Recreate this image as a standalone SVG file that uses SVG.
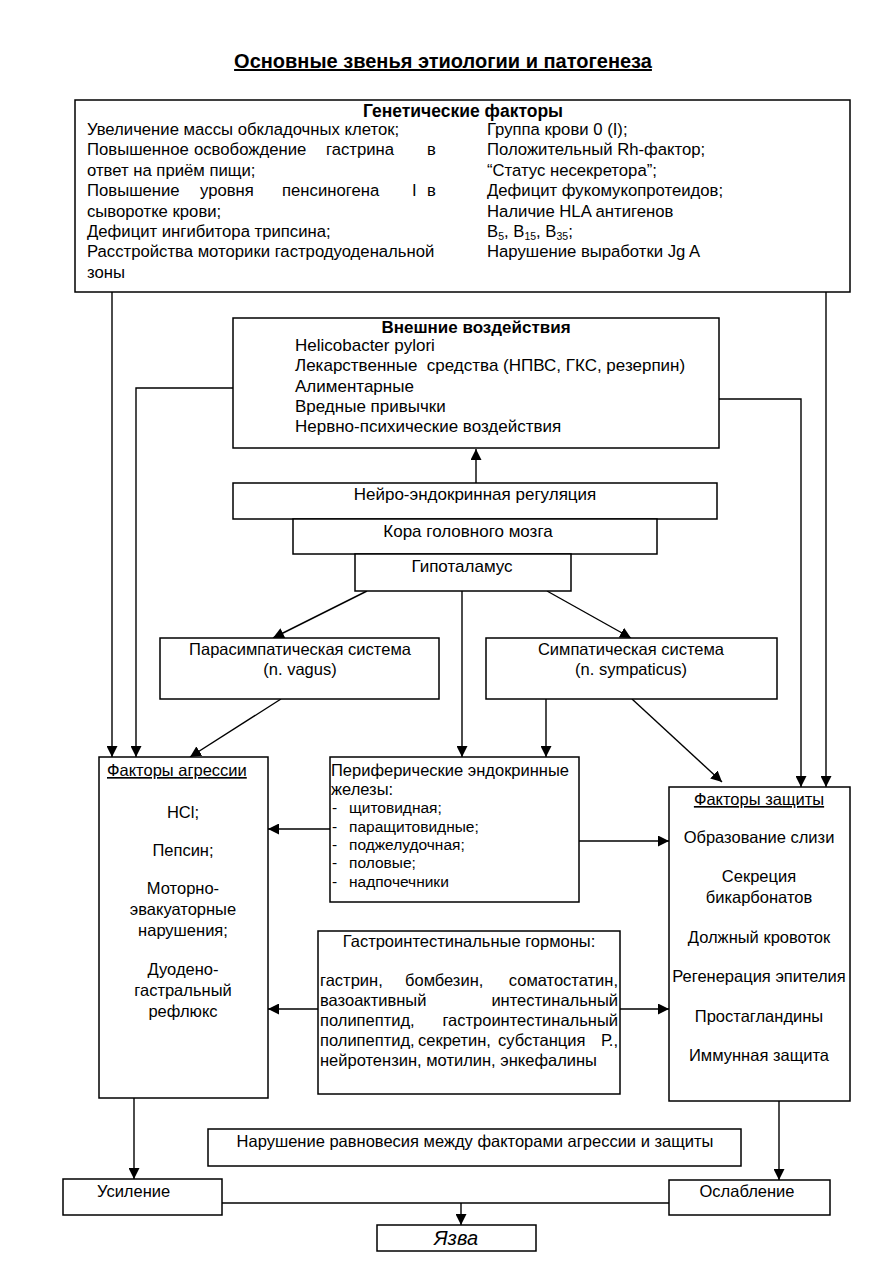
<svg xmlns="http://www.w3.org/2000/svg" width="874" height="1272" viewBox="0 0 874 1272">
<style>
text{font-family:"Liberation Sans",Arial,sans-serif;fill:#000;}
.t{font-size:16.7px;}
.x{font-size:17px;}
.s{font-size:16.5px;}
.xs{font-size:15.5px;}
.b{font-weight:bold;}
.c{text-anchor:middle;}
.e{text-anchor:end;}
.u{text-decoration:underline;}
.box{fill:#fff;stroke:#000;stroke-width:1.5;}
.ln{fill:none;stroke:#000;stroke-width:1.4;}
.ar{fill:none;stroke:#000;stroke-width:1.4;marker-end:url(#ah);}
</style>
<defs>
<marker id="ah" markerWidth="11" markerHeight="11" refX="11" refY="5.5" orient="auto" markerUnits="userSpaceOnUse">
<path d="M0,0 L11,5.5 L0,11 z" fill="#000"/>
</marker>
</defs>
<rect width="874" height="1272" fill="#fff"/>
<text x="443" y="68" class="b c u" font-size="20">Основные звенья этиологии и патогенеза</text>

<g id="connectors">
<path class="ar" d="M112,292 V757"/>
<path class="ar" d="M233,388 H136 V757"/>
<path class="ar" d="M719,399 H801 V787"/>
<path class="ar" d="M826,292 V787"/>
<path class="ar" d="M476,483 V449"/>
<path class="ar" d="M367,591 L273,638"/>
<path class="ar" d="M462,591 V757"/>
<path class="ar" d="M547,591 L631,638"/>
<path class="ar" d="M281,699 L190,757"/>
<path class="ar" d="M546,699 V757"/>
<path class="ar" d="M632,699 L722,782"/>
<path class="ar" d="M330,829 H268"/>
<path class="ar" d="M579,841 H669"/>
<path class="ar" d="M318,1009 H268"/>
<path class="ar" d="M620,1009 H669"/>
<path class="ar" d="M134,1098 V1179"/>
<path class="ar" d="M779,1101 V1180"/>
<path class="ln" d="M222,1203 H669"/>
<path class="ar" d="M461,1203 V1225"/>
</g>

<g id="genetic">
<rect class="box" x="75" y="100" width="775" height="192"/>
<text x="463" y="117" class="b c" font-size="17.5">Генетические факторы</text>
<text x="87" y="135" class="t">Увеличение массы обкладочных клеток;</text>
<text y="155.4" class="t"><tspan x="87">Повышенное</tspan><tspan x="194">освобождение</tspan><tspan x="326">гастрина</tspan><tspan x="427">в</tspan></text>
<text x="87" y="175.8" class="t">ответ на приём пищи;</text>
<text y="196.2" class="t"><tspan x="87">Повышение</tspan><tspan x="200">уровня</tspan><tspan x="282">пенсиногена</tspan><tspan x="412">I</tspan><tspan x="427">в</tspan></text>
<text x="87" y="216.6" class="t">сыворотке крови;</text>
<text x="87" y="237" class="t">Дефицит ингибитора трипсина;</text>
<text x="87" y="257.4" class="t">Расстройства моторики гастродуоденальной</text>
<text x="87" y="277.8" class="t">зоны</text>
<text x="487" y="135" class="t">Группа крови 0 (I);</text>
<text x="487" y="155.4" class="t">Положительный Rh-фактор;</text>
<text x="487" y="175.8" class="t">“Статус несекретора”;</text>
<text x="487" y="196.2" class="t">Дефицит фукомукопротеидов;</text>
<text x="487" y="216.6" class="t">Наличие HLA антигенов</text>
<text x="487" y="237" class="t">B<tspan font-size="10.5" dy="3">5</tspan><tspan dy="-3">, B</tspan><tspan font-size="10.5" dy="3">15</tspan><tspan dy="-3">, B</tspan><tspan font-size="10.5" dy="3">35</tspan><tspan dy="-3">;</tspan></text>
<text x="487" y="257.4" class="t">Нарушение выработки Jg A</text>
</g>

<g id="external">
<rect class="box" x="233" y="318" width="486" height="130"/>
<text x="476" y="333" class="b c" font-size="17">Внешние воздействия</text>
<text x="295" y="351" class="x">Helicobacter pylori</text>
<text x="295" y="371.3" class="x">Лекарственные&#160; средства (НПВС, ГКС, резерпин)</text>
<text x="295" y="391.5" class="x">Алиментарные</text>
<text x="295" y="411.8" class="x">Вредные привычки</text>
<text x="295" y="432" class="x">Нервно-психические воздействия</text>
</g>

<g id="neuro">
<rect class="box" x="233" y="483" width="484" height="36"/>
<text x="475" y="500" class="x c">Нейро-эндокринная регуляция</text>
</g>
<g id="cortex">
<rect class="box" x="293" y="519" width="364" height="35"/>
<text x="468" y="537" class="x c">Кора головного мозга</text>
</g>
<g id="hypothalamus">
<rect class="box" x="355" y="554" width="216" height="37"/>
<text x="462" y="572" class="x c">Гипоталамус</text>
</g>

<g id="parasympathetic">
<rect class="box" x="160" y="638" width="279" height="61"/>
<text x="300" y="655" class="s c">Парасимпатическая система</text>
<text x="300" y="675" class="s c">(n. vagus)</text>
</g>
<g id="sympathetic">
<rect class="box" x="486" y="638" width="291" height="61"/>
<text x="631" y="655" class="s c">Симпатическая система</text>
<text x="631" y="675" class="s c">(n. sympaticus)</text>
</g>

<g id="aggression">
<rect class="box" x="99" y="757" width="169" height="341"/>
<text x="107" y="776" class="s u">Факторы агрессии</text>
<text x="183" y="818" class="s c">HCl;</text>
<text x="183" y="856" class="s c">Пепсин;</text>
<text x="183" y="894" class="s c">Моторно-</text>
<text x="183" y="915" class="s c">эвакуаторные</text>
<text x="183" y="936" class="s c">нарушения;</text>
<text x="183" y="975" class="s c">Дуодено-</text>
<text x="183" y="996" class="s c">гастральный</text>
<text x="183" y="1017" class="s c">рефлюкс</text>
</g>

<g id="peripheral">
<rect class="box" x="330" y="757" width="249" height="145"/>
<text x="331" y="776" class="s">Периферические эндокринные</text>
<text x="331" y="795" class="s">железы:</text>
<text x="332" y="813" class="xs">-</text><text x="349" y="813" class="xs">щитовидная;</text>
<text x="332" y="832" class="xs">-</text><text x="349" y="832" class="xs">паращитовидные;</text>
<text x="332" y="850" class="xs">-</text><text x="349" y="850" class="xs">поджелудочная;</text>
<text x="332" y="868" class="xs">-</text><text x="349" y="868" class="xs">половые;</text>
<text x="332" y="887" class="xs">-</text><text x="349" y="887" class="xs">надпочечники</text>
</g>

<g id="defense">
<rect class="box" x="669" y="787" width="181" height="314"/>
<text x="759" y="805" class="s c u">Факторы защиты</text>
<text x="759" y="843" class="s c">Образование слизи</text>
<text x="759" y="882" class="s c">Секреция</text>
<text x="759" y="903" class="s c">бикарбонатов</text>
<text x="759" y="943" class="s c">Должный кровоток</text>
<text x="759" y="982" class="s c">Регенерация эпителия</text>
<text x="759" y="1022" class="s c">Простагландины</text>
<text x="759" y="1061" class="s c">Иммунная защита</text>
</g>

<g id="hormones">
<rect class="box" x="318" y="931" width="302" height="163"/>
<text x="469" y="947" class="s c">Гастроинтестинальные гормоны:</text>
<text y="986" class="s"><tspan x="320">гастрин,</tspan><tspan x="405">бомбезин,</tspan></text>
<text x="618" y="986" class="s e">соматостатин,</text>
<text x="320" y="1006" class="s">вазоактивный</text>
<text x="618" y="1006" class="s e">интестинальный</text>
<text x="320" y="1026" class="s">полипептид,</text>
<text x="618" y="1026" class="s e">гастроинтестинальный</text>
<text y="1046" class="s"><tspan x="320">полипептид,</tspan><tspan x="418">секретин,</tspan><tspan x="498">субстанция</tspan></text>
<text x="618" y="1046" class="s e">Р.,</text>
<text x="320" y="1066" class="s">нейротензин, мотилин, энкефалины</text>
</g>

<g id="imbalance">
<rect class="box" x="208" y="1129" width="533" height="37"/>
<text x="475" y="1147" class="s c">Нарушение равновесия между факторами агрессии и защиты</text>
</g>
<g id="increase">
<rect class="box" x="63" y="1179" width="159" height="36"/>
<text x="97" y="1197" class="s">Усиление</text>
</g>
<g id="weakening">
<rect class="box" x="669" y="1180" width="161" height="35"/>
<text x="747" y="1197" class="s c">Ослабление</text>
</g>
<g id="ulcer">
<rect class="box" x="377" y="1225" width="159" height="26"/>
<text x="456" y="1245" class="c" font-size="20" font-style="italic">Язва</text>
</g>
</svg>
